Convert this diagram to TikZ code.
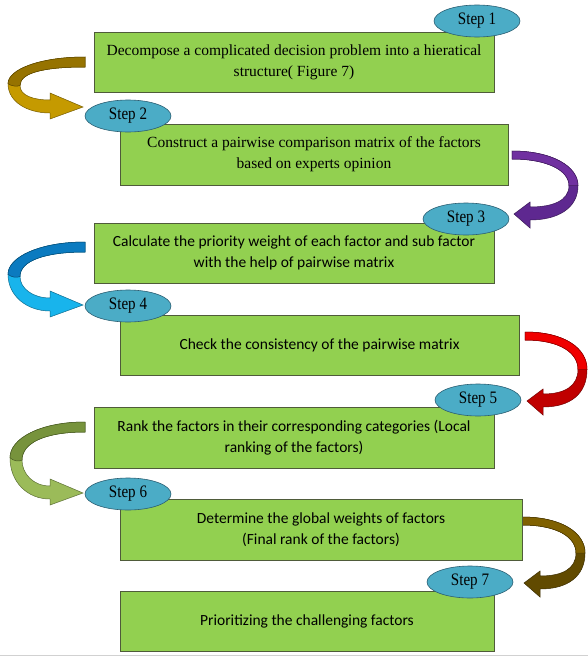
\documentclass[tikz,border=0pt]{standalone}
\usepackage{fontspec}
\setmainfont{Liberation Serif}
\newfontfamily\calfont{Carlito}
\usetikzlibrary{shapes.geometric}
\definecolor{boxgreen}{HTML}{92D050}
\definecolor{boxline}{HTML}{4F5B3A}
\definecolor{ovalblue}{HTML}{4BACC6}
\definecolor{ovalline}{HTML}{2C5F73}
\definecolor{goldlight}{HTML}{C59A00}
\definecolor{golddark}{HTML}{967300}
\definecolor{purplea}{HTML}{7030A0}
\definecolor{purpleb}{HTML}{5E2890}
\definecolor{bluelight}{HTML}{18B4EC}
\definecolor{bluedark}{HTML}{0B7BC0}
\definecolor{redup}{HTML}{F00000}
\definecolor{redlow}{HTML}{C00000}
\definecolor{greenlight}{HTML}{9BBB59}
\definecolor{greendark}{HTML}{77933C}
\definecolor{brownup}{HTML}{806100}
\definecolor{brownlow}{HTML}{614A00}
% #1 x, #2 y (tail top), #3 height, #4 width, #5 light (lower) colour, #6 dark (upper) colour
\newcommand\LeftCurveArr[6]{%
 \begin{scope}[shift={(#1,#2)}]
  \path[fill=#5, draw=#5!60!black, line width=0.5pt] (0,0) .. controls (-45,0) and (-#4,{0.2*#3}) .. (-#4,{0.43*#3})
   .. controls (-#4,{0.72*#3}) and (-58,{#3-6}) .. (-35,{#3-6})
   -- (-35,#3) -- (-2,{#3-12}) -- (-35,{#3-26}) -- (-35,{#3-19})
   .. controls (-52,{#3-19}) and ({-#4+12},{0.62*#3}) .. ({-#4+12},{0.46*#3})
   .. controls ({-#4+12},{0.25*#3}) and (-40,10) .. (0,10) -- cycle;
  \path[fill=#6, draw=#6!60!black, line width=0.5pt] (0,0) .. controls (-45,0) and (-#4,{0.2*#3}) .. (-#4,{0.43*#3})
   .. controls ({-#4+3},{0.47*#3}) and ({-#4+9},{0.48*#3}) .. ({-#4+12},{0.46*#3})
   .. controls ({-#4+12},{0.25*#3}) and (-40,10) .. (0,10) -- cycle;
 \end{scope}}
% #1 x, #2 y (tail top), #3 height, #4 width, #5 lower colour, #6 upper colour
\newcommand\RightCurveArr[6]{%
 \begin{scope}[shift={(#1,#2)}]
  \path[fill=#5, draw=#5!60!black, line width=0.5pt] (0,0) .. controls (40,0) and (#4,{0.2*#3}) .. (#4,{0.45*#3})
   .. controls (#4,{0.75*#3}) and (45,{#3-8}) .. (18,{#3-8})
   -- (18,#3) -- (2,{#3-14}) -- (18,{#3-26}) -- (18,{#3-21})
   .. controls (40,{#3-21}) and ({#4-9},{0.65*#3}) .. ({#4-9},{0.45*#3})
   .. controls ({#4-9},{0.25*#3}) and (35,8) .. (0,8) -- cycle;
  \path[fill=#6, draw=#6!60!black, line width=0.5pt] (0,0) .. controls (40,0) and (#4,{0.2*#3}) .. (#4,{0.45*#3})
   -- ({#4-9},{0.45*#3}) .. controls ({#4-9},{0.25*#3}) and (35,8) .. (0,8) -- cycle;
 \end{scope}}
\begin{document}
\begin{tikzpicture}[x=1pt,y=-1pt,
  stepbox/.style={rectangle, draw=boxline, fill=boxgreen, line width=0.8pt, inner sep=0pt, align=center, font=\fontsize{15.5}{21}\selectfont},
  stepoval/.style={ellipse, draw=ovalline, fill=ovalblue, line width=0.6pt, minimum width=86pt, minimum height=32pt, inner sep=0pt, font=\fontsize{17.5}{17.5}\selectfont},
  calbox/.style={stepbox, font=\fontsize{15.5}{21}\calfont}
]
\useasboundingbox (0,0) rectangle (588,656);
\fill[white] (0,0) rectangle (588,656);
\draw[black!18, line width=1pt] (0,655) -- (588,655);

% curved arrows
\LeftCurveArr{85}{57}{62}{77}{goldlight}{golddark}
\RightCurveArr{512}{151}{77}{66}{purpleb}{purplea}
\LeftCurveArr{85}{242}{75}{77}{bluelight}{bluedark}
\RightCurveArr{525}{332}{83}{62}{redlow}{redup}
\LeftCurveArr{85}{422}{83}{75}{greenlight}{greendark}
\RightCurveArr{522}{517}{80}{63}{brownlow}{brownup}

% boxes
\node[stepbox, minimum width=400pt, minimum height=60pt] (b1) at (294,62)
  {Decompose a complicated decision problem into a hieratical\\structure( Figure 7)};
\node[stepbox, minimum width=388pt, minimum height=61pt] (b2) at (314,154.5)
  {Construct a pairwise comparison matrix of the factors\\based on experts opinion};
\node[calbox, minimum width=400pt, minimum height=60pt] (b3) at (294,253)
  {Calculate the priority weight of each factor and sub factor\\with the help of pairwise matrix};
\node[calbox, minimum width=399pt, minimum height=60pt] (b4) at (319.5,345)
  {Check the consistency of the pairwise matrix};
\node[calbox, minimum width=400pt, minimum height=61pt] (b5) at (294,437.5)
  {Rank the factors in their corresponding categories (Local\\ranking of the factors)};
\node[calbox, minimum width=402pt, minimum height=61pt] (b6) at (321,529.5)
  {Determine the global weights of factors\\(Final rank of the factors)};
\node[calbox, minimum width=374pt, minimum height=60pt] (b7) at (307,621)
  {Prioritizing the challenging factors};

% step ovals
\node[stepoval] (s1) at (477,21) {\scalebox{0.86}[1]{Step 1}};
\node[stepoval] (s2) at (128,116) {\scalebox{0.86}[1]{Step 2}};
\node[stepoval] (s3) at (466,219) {\scalebox{0.86}[1]{Step 3}};
\node[stepoval] (s4) at (128,306) {\scalebox{0.86}[1]{Step 4}};
\node[stepoval] (s5) at (478,400) {\scalebox{0.86}[1]{Step 5}};
\node[stepoval] (s6) at (128,494) {\scalebox{0.86}[1]{Step 6}};
\node[stepoval] (s7) at (470,582) {\scalebox{0.86}[1]{Step 7}};
\end{tikzpicture}
\end{document}
